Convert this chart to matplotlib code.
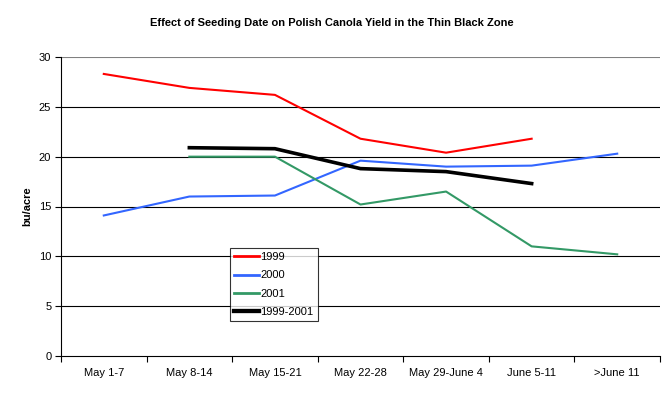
import numpy as np
import matplotlib
matplotlib.use("Agg")
import matplotlib.pyplot as plt

# data
categories = ["May 1-7", "May 8-14", "May 15-21", "May 22-28",
              "May 29-June 4", "June 5-11", ">June 11"]
y1999 = [28.3, 26.9, 26.2, 21.8, 20.4, 21.8, np.nan]
y2000 = [14.1, 16.0, 16.1, 19.6, 19.0, 19.1, 20.3]
y2001 = [np.nan, 20.0, 20.0, 15.2, 16.5, 11.0, 10.2]
y_avg = [np.nan, 20.9, 20.8, 18.8, 18.5, 17.3, np.nan]

plt.rcParams['font.family'] = ['Liberation Sans', 'DejaVu Sans']
fs = 8

fig = plt.figure(figsize=(6.64, 3.98), dpi=100)
ax = fig.add_axes([61 / 664, 42 / 398, 599 / 664, 299 / 398])

x = np.arange(len(categories))
ax.plot(x, y1999, color="#FF0000", lw=1.5, label="1999")
ax.plot(x, y2000, color="#3366FF", lw=1.5, label="2000")
ax.plot(x, y2001, color="#339966", lw=1.5, label="2001")
ax.plot(x, y_avg, color="black", lw=2.6, label="1999-2001")

ax.set_xlim(-0.5, len(categories) - 0.5)
ax.set_ylim(0, 30)
ax.set_yticks(np.arange(0, 31, 5))
ax.set_xticks(x)
ax.set_xticklabels(categories)
ax.set_xticks(np.arange(-0.5, len(categories)), minor=True)
ax.tick_params(axis="x", which="major", length=0, pad=9, labelsize=fs)
ax.tick_params(axis="x", which="minor", length=4, width=0.8, direction="out")
ax.tick_params(axis="y", length=4, width=0.8, direction="out", labelsize=fs, pad=3)

# horizontal gridlines, top one grey like the plot border
for v in range(5, 30, 5):
    ax.axhline(v, color="black", lw=0.8, zorder=0)
ax.axhline(30, color="#808080", lw=0.8, zorder=0)

for s in ["top", "right"]:
    ax.spines[s].set_visible(False)
ax.spines["left"].set_linewidth(0.8)
ax.spines["bottom"].set_linewidth(0.8)

fig.text(27.5 / 664, 1 - 206.5 / 398, "bu/acre", rotation=90, ha="center", va="center",
         fontsize=fs, fontweight="bold")

fig.text(332 / 664, 1 - 23 / 398, "Effect of Seeding Date on Polish Canola Yield in the Thin Black Zone",
         ha="center", va="center", fontsize=8, fontweight="bold")

leg = ax.legend(loc="lower left", bbox_to_anchor=(230 / 664, 77 / 398), bbox_transform=fig.transFigure,
                frameon=True, fancybox=False, fontsize=fs, handlelength=2.3, handletextpad=0.1,
                borderpad=0.35, labelspacing=0.75, borderaxespad=0)
leg.get_frame().set_edgecolor("black")
leg.get_frame().set_linewidth(0.8)
for line in leg.get_lines():
    line.set_linewidth(line.get_linewidth() + 0.5)

fig.savefig("out.png", dpi=100)
